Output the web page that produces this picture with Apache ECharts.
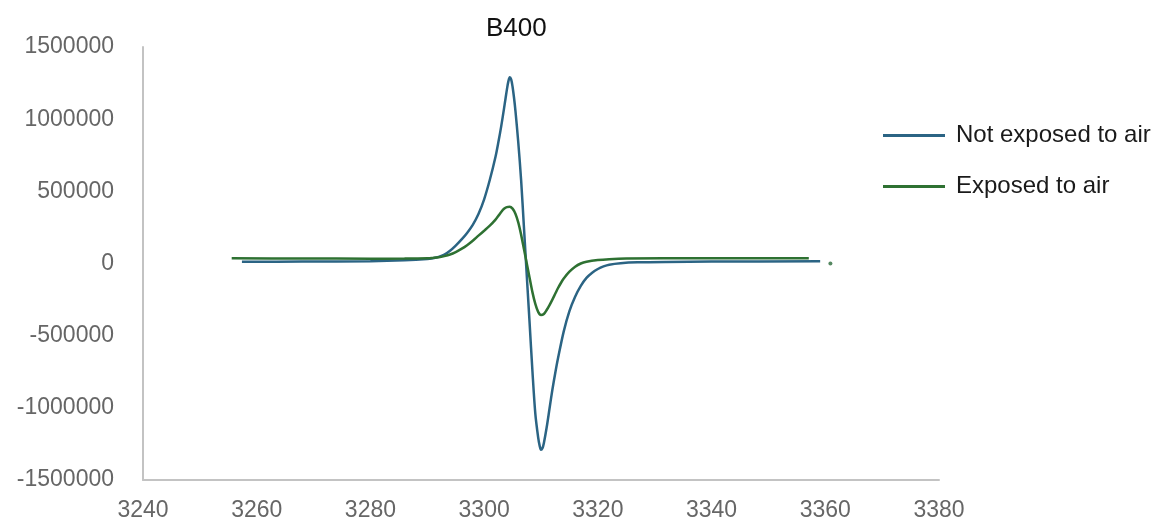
<!DOCTYPE html>
<html>
<head>
<meta charset="utf-8">
<script src="https://cdn.jsdelivr.net/npm/echarts@6/dist/echarts.min.js"></script>
<style>
html,body{margin:0;padding:0;background:#fff;}
#chart{width:1161px;height:524px;}
</style>
</head>
<body>
<div id="chart"></div>
<script>
var titleText = 'B400';
var seriesNames = ['Not exposed to air', 'Exposed to air'];
var xTicks = [3240, 3260, 3280, 3300, 3320, 3340, 3360, 3380];
var yTicks = [-1500000, -1000000, -500000, 0, 500000, 1000000, 1500000];

var notExposedX = [3257.4, 3268, 3280, 3286, 3290, 3291, 3292, 3293, 3294, 3295, 3296, 3297, 3298, 3299, 3300, 3301, 3302, 3302.5, 3303, 3303.5, 3303.75, 3304, 3304.25, 3304.5, 3304.75, 3305, 3305.25, 3305.5, 3306, 3306.5, 3307, 3307.5, 3308, 3308.5, 3309, 3309.5, 3309.75, 3310, 3310.25, 3310.5, 3311, 3311.5, 3312, 3312.5, 3313, 3314, 3315, 3316, 3317, 3318, 3319, 3320, 3321, 3322, 3324, 3327, 3332, 3340, 3359.1];
var notExposedY = [12500, 13500, 16000, 22000, 31000, 37000, 46000, 61000, 88000, 124000, 165000, 212000, 268000, 343000, 445000, 580000, 740000, 840000, 950000, 1075000, 1140000, 1205000, 1260000, 1290000, 1275000, 1225000, 1150000, 1060000, 840000, 580000, 250000, -85000, -415000, -750000, -1040000, -1205000, -1260000, -1290000, -1280000, -1245000, -1135000, -1005000, -875000, -760000, -655000, -470000, -330000, -230000, -155000, -100000, -64000, -38000, -20000, -8000, 2000, 8000, 11000, 13000, 16000];

var exposedX = [3255.6, 3268, 3280, 3286, 3290, 3291, 3292, 3293, 3294, 3295, 3296, 3297, 3298, 3299, 3300, 3301, 3302, 3302.5, 3303, 3303.5, 3304, 3304.5, 3305, 3305.5, 3306, 3306.5, 3307, 3307.5, 3308, 3308.5, 3309, 3309.5, 3310, 3310.5, 3311, 3311.5, 3312, 3312.5, 3313, 3313.5, 3314, 3315, 3316, 3317, 3318, 3320, 3322, 3325, 3338, 3357.1];
var exposedY = [36000, 35000, 33500, 34000, 36000, 39000, 43000, 51000, 62000, 79000, 101000, 127000, 158000, 193000, 227000, 262000, 304000, 330000, 357000, 379000, 391000, 394000, 380000, 345000, 285000, 200000, 100000, 0, -100000, -200000, -280000, -335000, -357000, -350000, -322000, -288000, -250000, -210000, -170000, -135000, -104000, -57000, -22000, 0, 12000, 24000, 30000, 34000, 36000, 36000];

var strayDotX = [3360.9];
var strayDotY = [0];

function pairs(xs, ys) { return xs.map(function (x, i) { return [x, ys[i]]; }); }

var blue = '#2b6484';
var green = '#2e7132';
var font = 'Liberation Sans';

var chart = echarts.init(document.getElementById('chart'), null, {renderer: 'canvas'});
chart.setOption({
  animation: false,
  backgroundColor: '#ffffff',
  title: {
    text: titleText,
    left: 481,
    top: 11,
    textStyle: {fontFamily: font, fontSize: 26, fontWeight: 'normal', color: '#111'}
  },
  legend: {
    orient: 'vertical',
    left: 878,
    top: 117,
    itemWidth: 62,
    itemHeight: 3,
    itemGap: 24,
    icon: 'rect',
    data: seriesNames,
    textStyle: {fontFamily: font, fontSize: 24, color: '#1a1a1a', lineHeight: 27, padding: [0, 0, 0, 6]}
  },
  grid: {left: 143, right: 222, top: 47, bottom: 44, containLabel: false},
  xAxis: {
    type: 'value',
    min: xTicks[0],
    max: xTicks[xTicks.length - 1],
    interval: 20,
    axisLine: {show: true, onZero: false, lineStyle: {color: '#c3c3c3', width: 2}},
    axisTick: {show: false},
    splitLine: {show: false},
    axisLabel: {margin: 19, color: '#666', fontFamily: font, fontSize: 23, formatter: function (v) { return String(v); }}
  },
  yAxis: {
    type: 'value',
    min: yTicks[0],
    max: yTicks[yTicks.length - 1],
    interval: 500000,
    axisLine: {show: true, onZero: false, lineStyle: {color: '#c3c3c3', width: 2}},
    axisTick: {show: false},
    splitLine: {show: false},
    axisLabel: {margin: 29, color: '#666', fontFamily: font, fontSize: 23, formatter: function (v) { return String(v); }}
  },
  series: [
    {
      name: seriesNames[0],
      type: 'line',
      data: pairs(notExposedX, notExposedY),
      smooth: 0.3,
      showSymbol: false,
      lineStyle: {color: blue, width: 2.5},
      itemStyle: {color: blue},
      z: 2
    },
    {
      name: seriesNames[1],
      type: 'line',
      data: pairs(exposedX, exposedY),
      smooth: 0.3,
      showSymbol: false,
      lineStyle: {color: green, width: 2.5},
      itemStyle: {color: green},
      z: 3
    },
    {
      name: 'dot',
      type: 'scatter',
      data: pairs(strayDotX, strayDotY),
      symbolSize: 4,
      itemStyle: {color: '#2a6a3a'},
      silent: true
    }
  ]
});
</script>
</body>
</html>
